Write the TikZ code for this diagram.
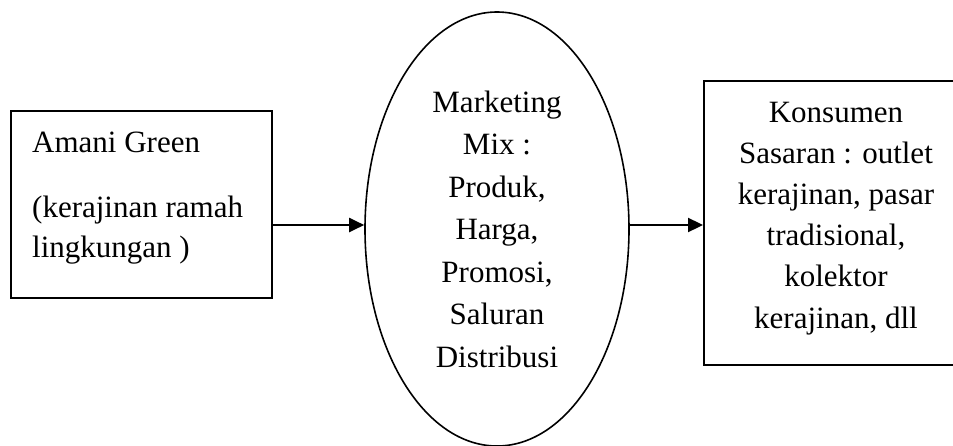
\documentclass[tikz,border=0pt]{standalone}
\usepackage{fontspec}
\setmainfont{Liberation Serif}
\usetikzlibrary{shapes.geometric,arrows.meta}
\begin{document}
\begin{tikzpicture}[x=1pt,y=-1pt,
  frame/.style={draw, line width=1.9pt, rectangle, inner sep=0pt},
  oval/.style={draw, line width=1.6pt, ellipse, inner sep=0pt},
  words/.style={font=\fontsize{31}{#1}\selectfont, inner sep=0pt},
  link/.style={line width=2pt, -{Triangle[length=15pt,width=14pt]}}]
\useasboundingbox (0,0) rectangle (953,445);
\clip (0,0) rectangle (953,445);

% shapes
\node[frame, minimum width=261pt, minimum height=187pt] (src) at (141.5,204.5) {};
\node[oval, minimum width=264pt, minimum height=434pt] (mix) at (497,229) {};
\node[frame, minimum width=296pt, minimum height=284pt] (dst) at (852,223) {};

% texts (base anchor sits on the last line)
\node[words=40, align=left, anchor=base west] (srctext) at (32,257)
  {Amani Green\\[25pt](kerajinan ramah\\lingkungan )};
\node[words=42.5, align=center, anchor=base] (mixtext) at (497,367)
  {Marketing\\Mix :\\Produk,\\Harga,\\Promosi,\\Saluran\\Distribusi};
\node[words=41.2, align=center, anchor=base] (dsttext) at (836,328)
  {Konsumen\\Sasaran : outlet\\kerajinan, pasar\\tradisional,\\kolektor\\kerajinan, dll};

% connectors
\draw[link] ([yshift=-20.5pt]src.east) -- ([yshift=4pt]mix.west);
\draw[link] ([yshift=4pt]mix.east) -- ([yshift=-2pt]dst.west);
\end{tikzpicture}
\end{document}
